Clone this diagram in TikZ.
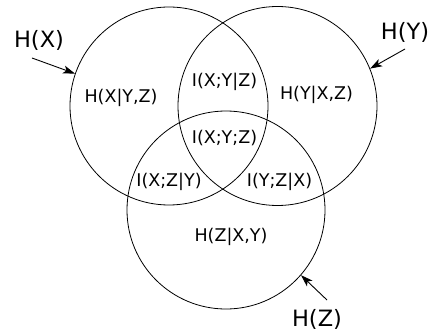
\documentclass[tikz,border=0pt]{standalone}
\usepackage{fontspec}
\setmainfont{DejaVu Sans}
\usetikzlibrary{arrows.meta}
\begin{document}
\begin{tikzpicture}[x=1pt,y=-1pt,
  setc/.style={draw=black,line width=0.8pt},
  inner/.style={font=\fontsize{17.5}{20}\selectfont,inner sep=0pt},
  outer/.style={font=\fontsize{22.5}{26}\selectfont,inner sep=0pt},
  pointer/.style={line width=0.9pt,-{Stealth[length=12pt,width=8pt,inset=3pt]}}]
\useasboundingbox (0,0) rectangle (431,334);
\node[setc,circle,minimum size=198pt,inner sep=0pt] (cx) at (169,106) {};
\node[setc,circle,minimum size=199pt,inner sep=0pt] (cy) at (277.5,106) {};
\node[setc,circle,minimum size=198pt,inner sep=0pt] (cz) at (226,210) {};
\node[inner] (hx) at (121,97.5) {H(X|Y,Z)};
\node[inner] (hy) at (316.5,95) {H(Y|X,Z)};
\node[inner] (hz) at (231,237) {H(Z|X,Y)};
\node[inner] (ixy) at (224.5,82) {I(X;Y|Z)};
\node[inner] (ixyz) at (224.5,138.5) {I(X;Y;Z)};
\node[inner] (ixz) at (169,182) {I(X;Z|Y)};
\node[inner] (iyz) at (279.5,182) {I(Y;Z|X)};
\node[outer] (lx) at (39,40) {H(X)};
\node[outer] (ly) at (405,32) {H(Y)};
\node[outer] (lz) at (317,319) {H(Z)};
\coordinate (sx) at (32,58);
\coordinate (sy) at (405,49);
\coordinate (sz) at (327,300);
\draw[pointer] (sx) -- (cx.161);
\draw[pointer] (sy) -- (cy.22);
\draw[pointer] (sz) -- (cz.-41.5);
\end{tikzpicture}
\end{document}
